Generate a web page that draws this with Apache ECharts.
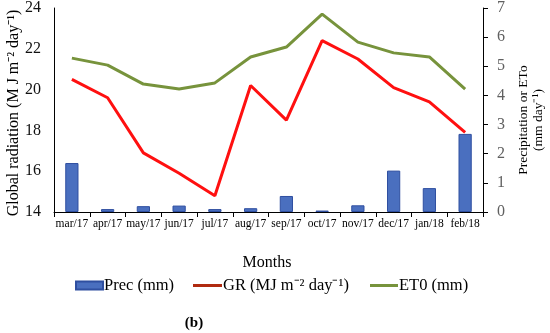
<!DOCTYPE html>
<html><head><meta charset="utf-8">
<script src="https://cdn.jsdelivr.net/npm/echarts@6/dist/echarts.min.js"></script>
<style>html,body{margin:0;padding:0;background:#fff}#c{width:550px;height:333px}</style>
</head><body><div id="c"></div>
<script>
const months = ['mar/17','apr/17','may/17','jun/17','jul/17','aug/17','sep/17','oct/17','nov/17','dec/17','jan/18','feb/18'];
const prec = [1.68, 0.10, 0.20, 0.22, 0.10, 0.13, 0.55, 0.05, 0.23, 1.42, 0.82, 2.68];
const gr = [20.5, 19.6, 16.9, 15.9, 14.8, 20.2, 18.5, 22.4, 21.5, 20.1, 19.4, 17.9];
const et0 = [5.28, 5.04, 4.39, 4.22, 4.43, 5.32, 5.66, 6.79, 5.83, 5.46, 5.32, 4.22];
const leftTicks = [14, 24, 2];
const rightTicks = [0, 7, 1];

const F = '"Liberation Serif", "Times New Roman", serif';
const lg = (name, left, w, h, color, top) => ({
  left: left, top: top, itemWidth: w, itemHeight: h, icon: 'rect',
  textStyle: {fontFamily: F, fontSize: 16.5, color: '#000', padding: [0,0,0,-4]},
  data: [{name: name, itemStyle: color ? {color: color, borderWidth: 0} : undefined}]
});
const chart = echarts.init(document.getElementById('c'));
chart.setOption({
  animation: false,
  textStyle: {fontFamily: F},
  grid: {left: 54, right: 67, top: 8, bottom: 121},
  legend: [
    lg('Prec (mm)', 70, 27, 8, null, 272),
    lg('GR (MJ m⁻² day⁻¹)', 188, 29, 3, '#b02a10', 272),
    lg('ET0 (mm)', 365, 28, 3, '#77933c', 272)
  ],
  graphic: [
    {type: 'text', x: 267, y: 263, style: {text: 'Months', font: '16px ' + F, fill: '#000', align: 'center', verticalAlign: 'middle'}},
    {type: 'text', x: 194, y: 323, style: {text: '(b)', font: 'bold 15px ' + F, fill: '#000', align: 'center', verticalAlign: 'middle'}},
    {type: 'text', x: 14, y: 113, rotation: Math.PI / 2,
     style: {text: 'Global radiation (M J m⁻² day⁻¹)', font: '16px ' + F, fill: '#000', align: 'center', verticalAlign: 'middle'}},
    {type: 'text', x: 531, y: 120, rotation: Math.PI / 2,
     style: {text: 'Precipitation or ETo\n(mm day⁻¹)', font: '13.5px ' + F, lineHeight: 15, fill: '#000', align: 'center', verticalAlign: 'middle'}}
  ],
  xAxis: {
    type: 'category', data: months,
    axisLine: {lineStyle: {color: '#000', width: 1}},
    axisTick: {show: true, length: 5, lineStyle: {color: '#000'}},
    axisLabel: {fontFamily: F, fontSize: 11.5, color: '#000', interval: 0, margin: 6}
  },
  yAxis: [
    {
      type: 'value', min: leftTicks[0], max: leftTicks[1], interval: leftTicks[2],
      axisLine: {show: true, lineStyle: {color: '#000'}},
      axisTick: {show: false},
      splitLine: {show: false},
      axisLabel: {fontFamily: F, fontSize: 16, color: '#111', margin: 13}
    },
    {
      type: 'value', min: rightTicks[0], max: rightTicks[1], interval: rightTicks[2], position: 'right',
      axisLine: {show: true, lineStyle: {color: '#000'}},
      axisTick: {show: true, length: 5, lineStyle: {color: '#000'}},
      splitLine: {show: false},
      axisLabel: {fontFamily: F, fontSize: 16, color: '#606060', margin: 14}
    }
  ],
  series: [
    {name: 'Prec (mm)', type: 'bar', yAxisIndex: 1, data: prec, barWidth: '37%',
     itemStyle: {color: '#4a6fbf', borderColor: '#2f4fa0', borderWidth: 1}},
    {name: 'GR (MJ m⁻² day⁻¹)', type: 'line', yAxisIndex: 0, data: gr, symbol: 'none',
     lineStyle: {color: '#ff1010', width: 3}, itemStyle: {color: '#b02a10'}},
    {name: 'ET0 (mm)', type: 'line', yAxisIndex: 1, data: et0, symbol: 'none',
     lineStyle: {color: '#77933c', width: 3}, itemStyle: {color: '#77933c'}}
  ]
});
</script></body></html>
